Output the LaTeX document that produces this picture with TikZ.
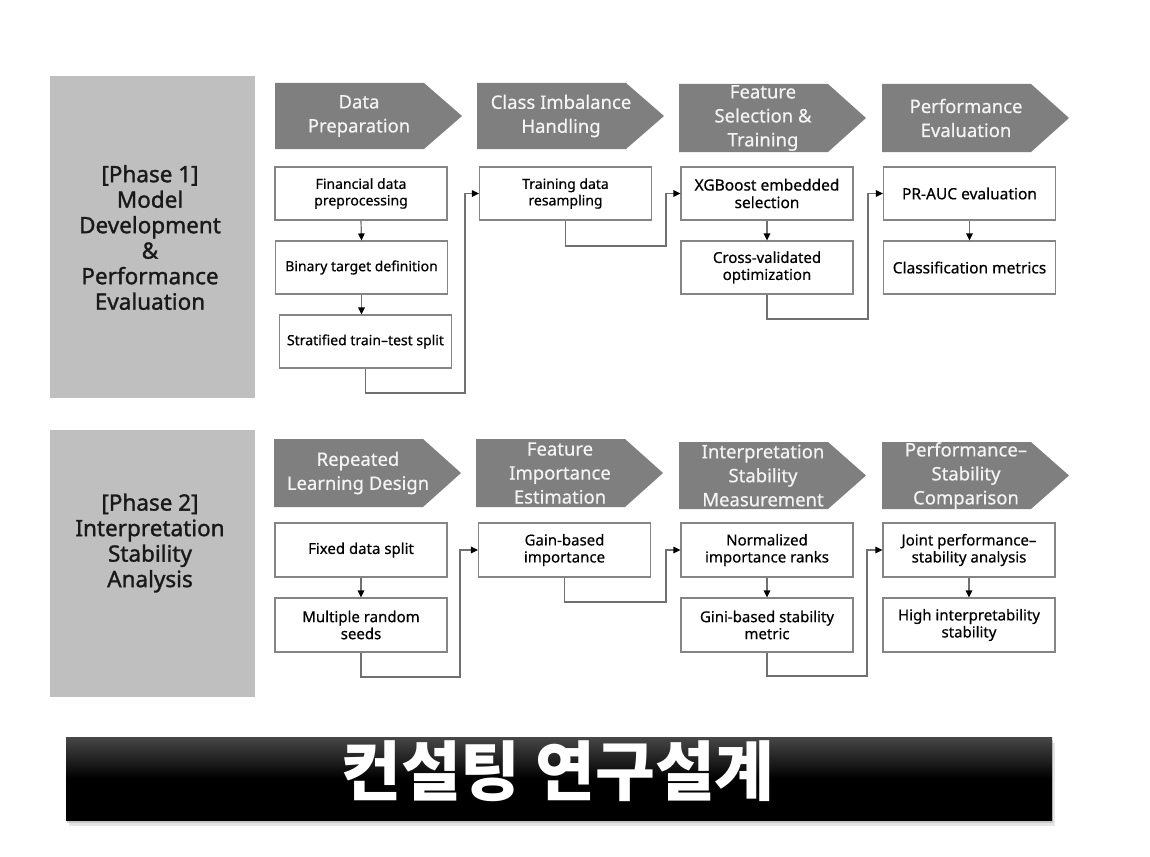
\documentclass[tikz,border=0pt]{standalone}
\usepackage{fontspec}
\setmainfont{Noto Sans}
\newfontfamily\semib{Noto Sans}[FakeBold=1.3,Ligatures=TeX]
\newfontfamily\medf{Noto Sans}[FakeBold=0.5,Ligatures=TeX]
\newfontfamily\cjk{Noto Sans CJK KR}
\usetikzlibrary{calc,shadows,arrows.meta}
\definecolor{phasegray}{HTML}{BFBFBF}
\definecolor{chevgray}{HTML}{7F7F7F}
\definecolor{chevtext}{HTML}{F4F4F4}
\definecolor{boxline}{HTML}{858585}
\definecolor{connline}{HTML}{707070}
\newcommand\chevshape[4]{% left, top, bottom, name
  \fill[chevgray] (#1,#2) -- ({#1+149},#2) -- ({#1+187},{(#2+#3)/2}) -- ({#1+149},#3) -- (#1,#3) -- cycle;
  \coordinate (#4) at ({#1+84},{(#2+#3)/2});
}
\tikzset{
  phasebox/.style={fill=phasegray, draw=none, minimum width=205pt, inner sep=0pt},
  phasetext/.style={align=center, font=\semib\fontsize{22.5}{25.5}\selectfont, text=black!90},
  chevlabel/.style={align=center, text=chevtext, font=\medf\fontsize{18.5}{24}\selectfont, inner sep=0pt},
  stepbox/.style={draw=boxline, line width=1.1pt, fill=white, minimum width=172pt, minimum height=53pt, align=center, inner sep=2pt},
  conn/.style={draw=connline, line width=1.2pt, -{Triangle[length=7pt,width=6.5pt,fill=black,color=black]}}
}
\newcommand\bsmall{\medf\fontsize{14}{16.5}\selectfont}
\newcommand\bmid{\medf\fontsize{15}{17}\selectfont}
\newcommand\bbig{\medf\fontsize{15.5}{17.5}\selectfont}
\begin{document}
\begin{tikzpicture}[x=1pt,y=-1pt]
\useasboundingbox (0,0) rectangle (1150,856);
\fill[white] (0,0) rectangle (1150,856);

% Phase panels
\node[phasebox, minimum height=322pt] (p1) at (152.5,237) {};
\node[phasetext] (p1t) at (150,237.5) {[Phase 1]\\Model\\Development\\\&\\Performance\\Evaluation};
\node[phasebox, minimum height=267pt] (p2) at (152.5,563.5) {};
\node[phasetext] (p2t) at (150,543) {[Phase 2]\\Interpretation\\Stability\\Analysis};

% Phase 1 chevrons
\chevshape{275}{83}{149}{h1}
\node[chevlabel] (h1t) at (h1) {Data\\Preparation};
\chevshape{477}{83}{149}{h2}
\node[chevlabel] (h2t) at (h2) {Class Imbalance\\Handling};
\chevshape{679}{84}{152}{h3}
\node[chevlabel] (h3t) at (h3) {Feature\\Selection \&\\Training};
\chevshape{882}{84}{152}{h4}
\node[chevlabel] (h4t) at (h4) {Performance\\Evaluation};

% Phase 2 chevrons
\chevshape{274}{439}{507}{g1}
\node[chevlabel] (g1t) at (g1) {Repeated\\Learning Design};
\chevshape{476}{439}{507}{g2}
\node[chevlabel] (g2t) at (g2) {Feature\\Importance\\Estimation};
\chevshape{679}{442}{509}{g3}
\node[chevlabel] (g3t) at (g3) {Interpretation\\Stability\\Measurement};
\chevshape{882}{442}{509}{g4}
\node[chevlabel] (g4t) at (g4) {Performance–\\Stability\\Comparison};

% Phase 1 boxes
\node[stepbox, font=\bsmall] (b11) at (361,193.5) {Financial data\\preprocessing};
\node[stepbox, font=\bsmall] (b12) at (361.5,267.5) {Binary target definition};
\node[stepbox, font=\bsmall] (b13) at (365.5,341.5) {Stratified train–test split};
\node[stepbox, font=\bsmall] (b21) at (565.5,193.5) {Training data\\resampling};
\node[stepbox, font=\bbig] (b31) at (767,193.5) {XGBoost embedded\\selection};
\node[stepbox, font=\bmid] (b32) at (767,267.5) {Cross-validated\\optimization};
\node[stepbox, font=\bbig] (b41) at (969.5,193.5) {PR-AUC evaluation};
\node[stepbox, font=\bbig] (b42) at (969.5,267.5) {Classification metrics};

\coordinate (k1) at (465,393);
\coordinate (k2) at (666,246);
\coordinate (k3) at (868,319);
\draw[conn] (b11.south) -- (b12.north);
\draw[conn] (b12.south) -- (b12.south |- b13.north);
\draw[conn] (b13.south) |- (k1) |- (b21.west);
\draw[conn] (b21.south) |- (k2) |- (b31.west);
\draw[conn] (b31.south) -- (b32.north);
\draw[conn] (b32.south) |- (k3) |- (b41.west);
\draw[conn] (b41.south) -- (b42.north);

% Phase 2 boxes
\node[stepbox, font=\bmid, minimum height=54pt] (c11) at (361,550) {Fixed data split};
\node[stepbox, font=\bmid, minimum height=54pt] (c12) at (361,625) {Multiple random\\seeds};
\node[stepbox, font=\bmid, minimum height=54pt] (c21) at (564.5,550) {Gain-based\\importance};
\node[stepbox, font=\bmid, minimum height=54pt] (c31) at (767,550) {Normalized\\importance ranks};
\node[stepbox, font=\bmid, minimum height=54pt] (c32) at (767,625) {Gini-based stability\\metric};
\node[stepbox, font=\bmid, minimum height=54pt] (c41) at (969,550) {Joint performance–\\stability analysis};
\node[stepbox, font=\bmid, minimum height=54pt] (c42) at (969,625) {High interpretability\\stability};

\coordinate (m1) at (460,677);
\coordinate (m2) at (666,602);
\coordinate (m3) at (867,676);
\draw[conn] (c11.south) -- (c12.north);
\draw[conn] (c12.south) |- (m1) |- (c21.west);
\draw[conn] (c21.south) |- (m2) |- (c31.west);
\draw[conn] (c31.south) -- (c32.north);
\draw[conn] (c32.south) |- (m3) |- (c41.west);
\draw[conn] (c41.south) -- (c42.north);

% Title bar
\fill[black!20, opacity=0.5] (69,743) rectangle (1055,826);
\fill[black!35, opacity=0.5] (67,740) rectangle (1053,823);
\shade[top color=black!72, bottom color=black, middle color=black] (66,737) rectangle (1052,820);
\node[text=white, font=\cjk\bfseries\fontsize{65}{65}\selectfont, inner sep=0pt] (title) at (558,771) {컨설팅 연구설계};
\end{tikzpicture}
\end{document}
